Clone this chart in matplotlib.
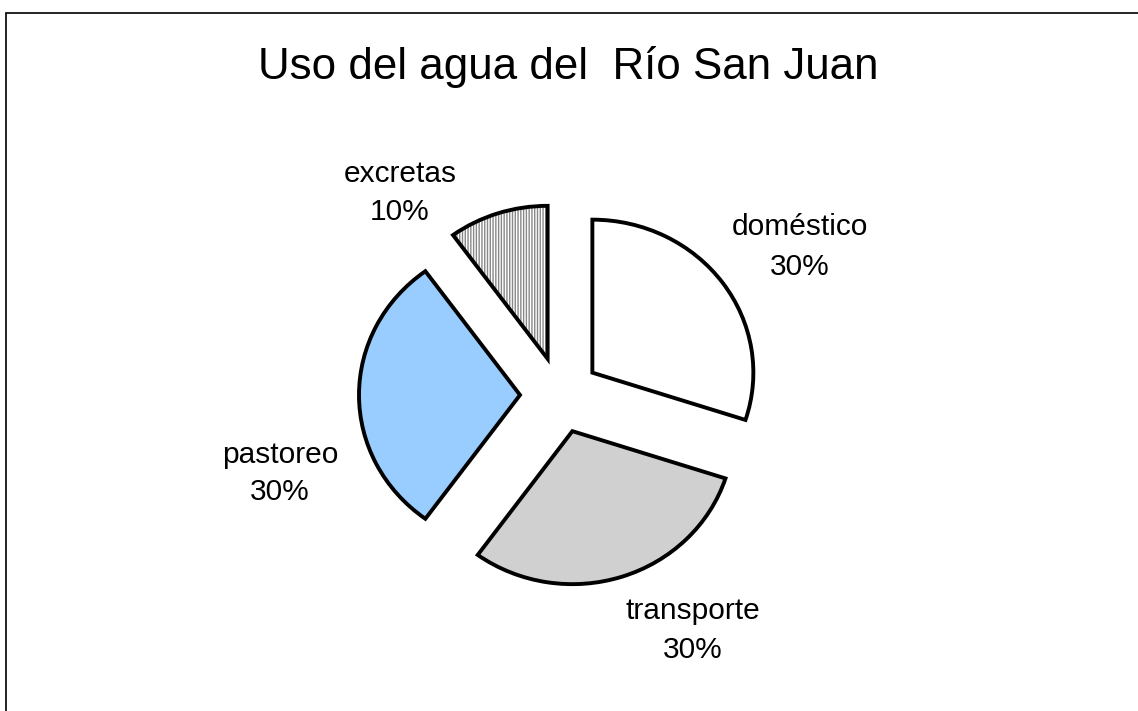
import matplotlib
matplotlib.use("Agg")
import matplotlib.pyplot as plt
from matplotlib.patches import Wedge, Rectangle

title = "Uso del agua del  Río San Juan"
categories = ["doméstico", "transporte", "pastoreo", "excretas"]
values = [30, 30, 30, 10]
# label centre x and baselines of the two lines (pixels from top)
label_pos = [(800, 235, 275), (693, 619, 658), (280, 463, 500), (400, 182, 220)]

W, H = 1138, 711
fig = plt.figure(figsize=(W / 100, H / 100), dpi=100)
ax = fig.add_axes([0, 0, 1, 1])
ax.set_axis_off()

Rx, Ry = 161, 153
s = Ry / Rx  # vertical squash of the pie (pixels per y data unit)
cx, cy = 560, (H - 395) / s
explode = [40] * 4  # offset in data units
colors = ["white", "#d0d0d0", "#99ccff", "white"]
plt.rcParams["hatch.linewidth"] = 1.0

wedges, _ = ax.pie(values, colors=colors, startangle=90, counterclock=False,
                   radius=Rx, center=(cx, cy), explode=explode,
                   wedgeprops=dict(edgecolor="black", linewidth=2.8))

# vertical gray stripes for excretas
w = wedges[3]
w.set_hatch("||||||")
w.set_edgecolor("#888888")
w.set_linewidth(0)
outline = Wedge(w.center, w.r, w.theta1, w.theta2, facecolor="none",
                edgecolor="black", linewidth=2.8, zorder=3)
ax.add_patch(outline)

ax.set_xlim(0, W)
ax.set_ylim(0, H / s)
ax.set_aspect("auto")

for cat, v, (x, y1, y2) in zip(categories, values, label_pos):
    fig.text(x / W, 1 - y1 / H, cat, ha="center", va="baseline",
             fontsize=21.5, family="Liberation Sans")
    fig.text(x / W, 1 - y2 / H, f"{v}%", ha="center", va="baseline",
             fontsize=21.5, family="Liberation Sans")

fig.text(568 / W, 1 - 79 / H, title, ha="center", va="baseline", fontsize=31.6,
         family="Liberation Sans")

fig.patches.append(Rectangle((6 / W, -0.1), 2, 1.1 - 13 / H, transform=fig.transFigure,
                             fill=False, edgecolor="black", linewidth=1.2))

fig.savefig("out.png", dpi=100, facecolor="white")
